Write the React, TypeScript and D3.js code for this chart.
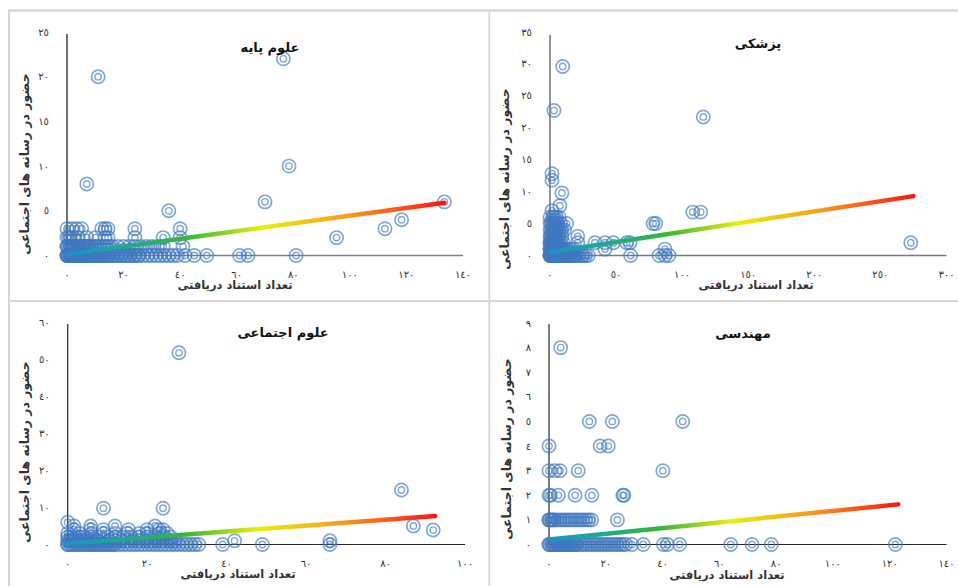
import React from 'react';
import * as d3 from 'd3';

// ---------- texts ----------
const panelTitles = ['علوم پایه', 'پزشکی', 'علوم اجتماعی', 'مهندسی'];
const xAxisTitle = 'تعداد استناد دریافتی';
const yAxisTitle = 'حضور در رسانه های اجتماعی';

// ---------- tick values ----------
const basicXTicks = [0, 20, 40, 60, 80, 100, 120, 140];
const basicYTicks = [0, 5, 10, 15, 20, 25];
const medXTicks = [0, 50, 100, 150, 200, 250, 300];
const medYTicks = [0, 5, 10, 15, 20, 25, 30, 35];
const socXTicks = [0, 20, 40, 60, 80, 100];
const socYTicks = [0, 10, 20, 30, 40, 50, 60];
const engXTicks = [0, 20, 40, 60, 80, 100, 120, 140];
const engYTicks = [0, 1, 2, 3, 4, 5, 6, 7, 8, 9];

// ---------- data: rows of x values at a given y, plus single points ----------
type Row = { y: number; xs: number[] };

const basicRows: Row[] = [
  { y: 0, xs: [0, 0, 0, 0.3, 0.5, 0.8, 1, 1.3, 1.5, 1.8, 2, 2.3, 2.5, 2.8, 3, 3.3, 3.5, 3.8, 4, 4.3, 4.5, 4.8, 5, 5.3, 5.5, 5.8, 6, 6.5, 7, 7.5, 8, 8.5, 9, 9.5, 10, 10.5, 11, 11.5, 12, 12.5, 13, 13.5, 14, 14.5, 15, 16, 16.5, 17.5, 18, 19, 19.5, 20.5, 21, 22, 22.5, 23.5, 24, 25, 25.5, 27, 28.5, 30, 31.5, 33, 34.5, 36, 37.5, 39, 41.7, 45, 49.4, 61, 64, 81] },
  { y: 1, xs: [0, 0, 0.5, 1, 1.5, 2, 2.5, 3, 3.5, 4, 4.5, 5, 5.5, 6, 6.5, 7, 7.5, 8, 8.5, 9, 10, 11, 12, 13, 14, 15, 16, 18, 20, 22, 24, 26, 28, 30, 32, 34, 41] },
  { y: 2, xs: [0, 0.6, 1.2, 2.4, 4, 7, 10, 13.5, 14.5, 24, 34, 40] },
  { y: 3, xs: [0, 1.7, 3.4, 5.2, 12.3, 13.5, 14.5, 24, 40] },
];
const basicSingles: [number, number][] = [
  [11, 20], [76.5, 22], [7, 8], [78.5, 10], [70, 6], [36, 5], [133.4, 6], [118.3, 4], [112.4, 3], [95.3, 2],
];
const basicTrend: [number, number][] = [[0, 0.15], [133.4, 5.9]];

const medRows: Row[] = [
  { y: 0, xs: [0, 0, 0, 0.5, 1, 1, 1.5, 2, 2, 2.5, 3, 3.5, 4, 4.5, 5, 5.5, 6, 6.5, 7, 7.5, 8, 9, 10, 11, 12, 13, 14, 15, 16, 17, 18, 19, 20, 22, 24, 25, 27, 29, 61, 82.5, 87, 90] },
  { y: 1, xs: [0, 0, 0.5, 1, 1.5, 2, 2.5, 3, 3.5, 4, 5, 6, 7, 8, 9, 10, 12, 14, 16, 18, 41.6, 87] },
  { y: 2, xs: [0, 0, 0.5, 1, 1.5, 2, 3, 4, 5, 6, 8, 10, 21, 34, 41.6, 48, 58, 60.5, 273] },
  { y: 3, xs: [0, 0.5, 1, 2, 3, 4, 5, 7, 9, 21] },
  { y: 4, xs: [0, 1, 2, 3, 5, 7, 9, 11] },
  { y: 5, xs: [0, 1, 2, 3, 4, 6, 8, 12.6] },
  { y: 6, xs: [0, 2, 3, 5, 7] },
];
const medSingles: [number, number][] = [
  [1.5, 7], [7.5, 7.8], [9, 9.8], [1.5, 11.8], [1.5, 12.8], [3, 22.7], [9.6, 29.6], [116, 21.7], [108, 6.8], [114, 6.8], [78, 5], [80, 5],
];
const medTrend: [number, number][] = [[0, 0.5], [275, 9.3]];

const socRows: Row[] = [
  { y: 0, xs: [0, 0, 0.5, 1, 1.5, 2, 2.5, 3, 3.5, 4, 4.5, 5, 5.5, 6, 6.5, 7, 7.5, 8, 8.5, 9, 9.5, 10, 10.5, 11, 11.5, 12, 13, 14, 15, 16, 17, 18, 19, 20, 21, 22, 23, 24, 25, 26, 27, 28, 29, 30, 31, 32, 33, 39, 49, 66] },
  { y: 1, xs: [0, 0.5, 1.5, 2.5, 3, 4, 4.5, 5.5, 6, 7, 7.5, 9, 10.5, 12, 13.5, 15, 16.5, 18, 19.5, 21, 22.5, 24, 25.5, 27, 42, 66] },
  { y: 2, xs: [0, 1, 2, 3, 4, 6, 8, 10, 12, 14, 16, 18, 20, 22, 24, 26] },
  { y: 3, xs: [0, 3, 6, 9, 12, 15, 18, 20, 23, 25] },
  { y: 4, xs: [1.6, 5.8, 9, 15.3, 20, 23, 24] },
  { y: 5, xs: [1.6, 5.8, 11.9, 22] },
];
const socSingles: [number, number][] = [
  [0, 6], [9, 9.8], [24, 9.8], [28, 51.7], [84, 14.7], [87, 5], [92, 3.9],
];
const socTrend: [number, number][] = [[0, 0.3], [92.5, 7.7]];

const engRows: Row[] = [
  { y: 0, xs: [0, 0, 0.5, 1, 1.5, 2, 2.5, 3, 3.5, 4, 4.5, 5, 5.5, 6, 6.5, 7, 7.5, 8, 8.5, 9, 9.5, 10, 11, 12, 13, 14, 15, 16, 17, 18, 19, 20, 21, 22, 23, 24, 25, 26, 27, 29.2, 33.2, 40.3, 41.7, 46, 64, 71.5, 78.3, 122] },
  { y: 1, xs: [0, 0, 0.5, 1, 1.5, 2, 3, 4, 5, 6, 7, 8, 9, 10, 11, 12, 13, 14, 15, 24.1] },
  { y: 2, xs: [0, 0.5, 3.3, 9.2, 15.1, 26, 26.4] },
  { y: 3, xs: [0, 2.1, 3.9, 10.3, 40.1] },
  { y: 4, xs: [0, 18, 20.9] },
  { y: 5, xs: [14.2, 22.3, 47.1] },
];
const engSingles: [number, number][] = [[4.1, 8]];
const engTrend: [number, number][] = [[0, 0.2], [123, 1.63]];

// ---------- helpers ----------
const arabicDigits = '٠١٢٣٤٥٦٧٨٩';
const toArabic = (n: number) => String(n).replace(/\d/g, (d) => arabicDigits[+d]);
const flatten = (rows: Row[], singles: [number, number][]) => [
  ...rows.flatMap((r) => r.xs.map((x) => [x, r.y] as [number, number])),
  ...singles,
];

const FONT = '"DejaVu Sans", "Noto Sans", sans-serif';
const MARK = '#3f78c0';

type Panel = {
  title: string;
  pts: [number, number][];
  trend: [number, number][];
  xDomain: [number, number];
  yDomain: [number, number];
  xTicks: number[];
  yTicks: number[];
  left: number; right: number; top: number; bottom: number;
  axisTop: number;
  titleX: number; titleY: number;
  xTitleX: number; xTitleY: number;
  yTitleX: number; yTitleY: number;
  yAxisColor: string; xAxisColor: string; axisW: number;
};

const panels: Panel[] = [
  {
    title: panelTitles[0], pts: flatten(basicRows, basicSingles), trend: basicTrend,
    xDomain: [0, 140], yDomain: [0, 25], xTicks: basicXTicks, yTicks: basicYTicks,
    left: 67, right: 463, top: 32, bottom: 255.5, axisTop: 34,
    titleX: 270, titleY: 47, xTitleX: 235, xTitleY: 285, yTitleX: 25, yTitleY: 164,
    yAxisColor: '#262626', xAxisColor: '#808080', axisW: 1.3,
  },
  {
    title: panelTitles[1], pts: flatten(medRows, medSingles), trend: medTrend,
    xDomain: [0, 300], yDomain: [0, 35], xTicks: medXTicks, yTicks: medYTicks,
    left: 550, right: 946.5, top: 32, bottom: 255.5, axisTop: 35,
    titleX: 758, titleY: 43, xTitleX: 756, xTitleY: 285, yTitleX: 505, yTitleY: 179,
    yAxisColor: '#7a7a7a', xAxisColor: '#7a7a7a', axisW: 1.6,
  },
  {
    title: panelTitles[2], pts: flatten(socRows, socSingles), trend: socTrend,
    xDomain: [0, 100], yDomain: [0, 60], xTicks: socXTicks, yTicks: socYTicks,
    left: 67.7, right: 465, top: 322, bottom: 544.5, axisTop: 324,
    titleX: 283, titleY: 332, xTitleX: 238, xTitleY: 574, yTitleX: 25, yTitleY: 452,
    yAxisColor: '#262626', xAxisColor: '#262626', axisW: 1.2,
  },
  {
    title: panelTitles[3], pts: flatten(engRows, engSingles), trend: engTrend,
    xDomain: [0, 140], yDomain: [0, 9], xTicks: engXTicks, yTicks: engYTicks,
    left: 549, right: 946.5, top: 323, bottom: 544.5, axisTop: 324,
    titleX: 743, titleY: 333, xTitleX: 727, xTitleY: 575, yTitleX: 507, yTitleY: 449,
    yAxisColor: '#262626', xAxisColor: '#262626', axisW: 1.2,
  },
];

function ScatterPanel({ p, idx }: { p: Panel; idx: number }) {
  const x = d3.scaleLinear().domain(p.xDomain).range([p.left, p.right]);
  const y = d3.scaleLinear().domain(p.yDomain).range([p.bottom, p.top]);
  const line = d3.line<[number, number]>().x((d) => x(d[0])).y((d) => y(d[1]));
  const gid = `trend-grad-${idx}`;
  const [t0, t1] = p.trend;
  return (
    <g>
      <defs>
        <linearGradient id={gid} gradientUnits="userSpaceOnUse" x1={x(t0[0])} y1={y(t0[1])} x2={x(t1[0])} y2={y(t1[1])}>
          <stop offset="0" stopColor="#1f8fc8" />
          <stop offset="0.12" stopColor="#1aa89a" />
          <stop offset="0.32" stopColor="#37b53c" />
          <stop offset="0.52" stopColor="#e8ef0a" />
          <stop offset="0.75" stopColor="#f79a1c" />
          <stop offset="1" stopColor="#ff1414" />
        </linearGradient>
      </defs>
      {/* axes */}
      <line x1={p.left} x2={p.left} y1={p.axisTop} y2={p.bottom} stroke={p.yAxisColor} strokeWidth={p.axisW} />
      <line x1={p.left} x2={p.right} y1={p.bottom} y2={p.bottom} stroke={p.xAxisColor} strokeWidth={p.axisW} />
      {/* tick labels */}
      {p.yTicks.map((t) => (
        <text key={'y' + t} x={p.left - 18} y={y(t)} dy="0.35em" textAnchor="end" fontSize={10} fontFamily={FONT} fill="#333">
          {toArabic(t)}
        </text>
      ))}
      {p.xTicks.map((t) => (
        <text key={'x' + t} x={x(t)} y={p.bottom + 22} textAnchor="middle" fontSize={10} fontFamily={FONT} fill="#333">
          {toArabic(t)}
        </text>
      ))}
      {/* points */}
      <g fill="none" stroke={MARK} strokeOpacity={0.65}>
        {p.pts.map((d, i) => (
          <g key={i}>
            <circle cx={x(d[0])} cy={y(d[1])} r={6.6} strokeWidth={1.7} />
            <circle cx={x(d[0])} cy={y(d[1])} r={3.2} strokeWidth={1.4} />
          </g>
        ))}
      </g>
      {/* trend line */}
      <path d={line(p.trend) || ''} stroke={`url(#${gid})`} strokeWidth={4.5} strokeLinecap="round" fill="none" />
      {/* titles */}
      <text x={p.titleX} y={p.titleY} dy="0.35em" textAnchor="middle" fontSize={13} fontWeight="bold" fontFamily={FONT} fill="#111" direction="rtl">
        {p.title}
      </text>
      <text x={p.xTitleX} y={p.xTitleY} dy="0.35em" textAnchor="middle" fontSize={11.5} fontWeight="bold" fontFamily={FONT} fill="#333" direction="rtl">
        {xAxisTitle}
      </text>
      <text transform={`translate(${p.yTitleX},${p.yTitleY}) rotate(-90)`} dy="0.35em" textAnchor="middle" fontSize={12.5} fontWeight="bold" fontFamily={FONT} fill="#333" direction="rtl">
        {yAxisTitle}
      </text>
    </g>
  );
}

export default function App() {
  return (
    <svg width={958} height={586} style={{ position: 'absolute', left: 0, top: 0, background: '#fff' }}>
      <rect x={0} y={0} width={958} height={586} fill="#fff" />
      {/* sheet borders */}
      <line x1={8} x2={958} y1={10.5} y2={10.5} stroke="#d6d6d6" strokeWidth={2.5} />
      <line x1={9} x2={9} y1={10} y2={586} stroke="#d6d6d6" strokeWidth={2} />
      <line x1={489.3} x2={489.3} y1={10} y2={586} stroke="#d6d6d6" strokeWidth={1.8} />
      <line x1={8} x2={958} y1={301} y2={301} stroke="#d6d6d6" strokeWidth={1.8} />
      {panels.map((p, i) => (
        <ScatterPanel key={i} p={p} idx={i} />
      ))}
    </svg>
  );
}
